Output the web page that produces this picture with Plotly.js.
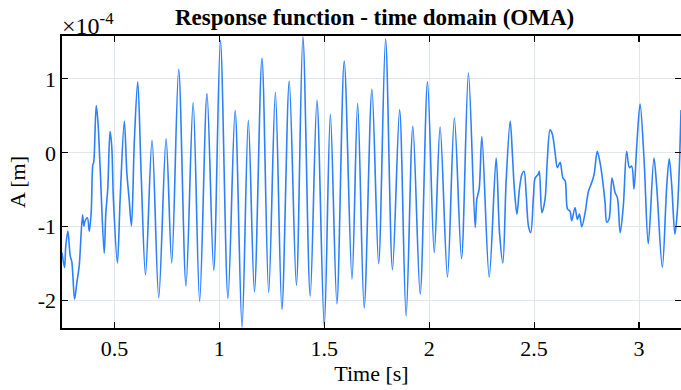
<!DOCTYPE html>
<html>
<head>
<meta charset="utf-8">
<script src="https://cdn.plot.ly/plotly-3.0.1.min.js"></script>
<style>html,body{margin:0;padding:0;background:#fff;}#chart{width:681px;height:390px;}</style>
</head>
<body>
<div id="chart"></div>
<script>
// Time [s]
const timeS = [
0.250,0.262,0.268,0.278,0.289,0.297,0.310,0.321,0.332,0.348,0.354,0.360,0.371,0.380,0.389,0.397,0.401,0.413,0.421,0.432,
0.451,0.459,0.468,0.479,0.487,0.495,0.514,0.527,0.547,0.559,0.570,0.581,0.595,0.611,0.627,0.648,0.679,0.711,0.746,0.773,
0.806,0.841,0.875,0.906,0.941,0.973,1.005,1.041,1.075,1.108,1.138,1.167,1.203,1.235,1.267,1.298,1.333,1.367,1.398,1.433,
1.465,1.500,1.529,1.560,1.595,1.632,1.659,1.690,1.727,1.759,1.792,1.825,1.859,1.890,1.922,1.957,1.992,2.024,2.052,2.087,
2.120,2.154,2.187,2.219,2.227,2.238,2.251,2.286,2.319,2.335,2.351,2.367,2.386,2.397,2.405,2.418,2.430,2.442,2.452,2.462,
2.473,2.484,2.497,2.505,2.520,2.525,2.537,2.552,2.563,2.576,2.587,2.600,2.611,2.624,2.637,2.648,2.659,2.671,2.679,2.695,
2.706,2.716,2.727,2.743,2.759,2.775,2.786,2.801,2.814,2.825,2.838,2.846,2.857,2.871,2.886,2.897,2.910,2.925,2.941,2.954,
2.965,2.976,2.989,3.005,3.024,3.044,3.071,3.084,3.111,3.132,3.144,3.156,3.171,3.182,3.192,3.200
];
// Response amplitude A, in units of 1e-4 m
const amplitudeE4 = [
-1.35,-1.55,-1.26,-1.06,-1.39,-1.48,-1.98,-1.75,-1.53,-0.84,-0.99,-0.92,-0.88,-1.06,-0.81,-0.16,-0.13,0.64,0.43,-0.22,
-1.36,-0.81,-0.49,0.29,0.09,-0.63,-1.49,-0.63,0.43,-0.27,-0.63,-0.99,0.18,0.96,-0.27,-1.65,0.17,-1.96,0.19,-1.49,
1.13,-1.80,0.68,-2.01,0.80,-1.59,1.52,-1.97,0.57,-2.36,0.44,-1.88,1.28,-1.89,0.82,-2.12,0.97,-1.79,1.57,-1.94,
0.71,-2.35,0.52,-2.04,1.24,-1.71,0.67,-2.10,0.86,-1.50,1.54,-1.58,0.58,-2.21,0.36,-1.91,0.96,-1.35,0.35,-1.68,
0.47,-1.43,1.08,-1.01,-0.63,-0.49,0.22,-1.68,-0.07,-1.08,-1.49,-0.36,0.43,-0.05,-0.45,-0.83,-0.49,-0.29,-0.25,-0.56,
-0.99,-1.08,-0.58,-0.34,-0.29,-0.25,-0.81,-0.63,-0.09,0.31,0.25,0.00,-0.20,-0.13,-0.34,-0.38,-0.76,-0.79,-0.92,-0.74,
-0.90,-0.83,-1.00,-0.81,-0.52,-0.40,-0.29,0.02,-0.13,-0.34,-0.67,-0.94,-0.90,-0.34,-0.54,-0.61,-1.08,-0.72,0.02,-0.20,
-0.18,-0.49,0.09,0.66,-0.09,-1.23,-0.07,-0.45,-1.55,-0.45,-0.08,-0.45,-1.10,-0.81,-0.20,0.58
];
const xTickVals = [0.5, 1, 1.5, 2, 2.5, 3];
const xTickText = ['0.5', '1', '1.5', '2', '2.5', '3'];
const yTickVals = [-2, -1, 0, 1];
const yTickText = ['-2', '-1', '0', '1'];

const serif = "Liberation Serif, Times New Roman, serif";

const trace = {
  x: timeS, y: amplitudeE4, type: 'scatter', mode: 'lines',
  line: {color: '#2c80fb', width: 1.6, shape: 'spline', smoothing: 0.9},
  hoverinfo: 'skip'
};

const layout = {
  width: 681, height: 390,
  margin: {l: 62, r: 0, t: 36, b: 62},
  paper_bgcolor: '#fff', plot_bgcolor: '#fff',
  showlegend: false,
  font: {family: serif, size: 22, color: '#000'},
  title: {text: '<b>Response function - time domain (OMA)</b>', font: {family: serif, size: 23, color: '#000'},
          x: 0.55, xanchor: 'center', xref: 'container', y: 0.978, yanchor: 'top', yref: 'container'},
  xaxis: {
    range: [0.25, 3.2], tickvals: xTickVals, ticktext: xTickText,
    ticks: 'inside', ticklen: 6, tickwidth: 1.2, tickcolor: '#000',
    showline: true, linecolor: '#000', linewidth: 1.6, mirror: 'ticks',
    showgrid: true, gridcolor: '#e1e6ea', gridwidth: 1, zeroline: false,
    tickfont: {family: serif, size: 22, color: '#000'},
    title: {text: 'Time [s]', font: {family: serif, size: 22, color: '#000'}, standoff: 3}
  },
  yaxis: {
    range: [-2.37, 1.58], tickvals: yTickVals, ticktext: yTickText,
    ticks: 'inside', ticklen: 6, tickwidth: 1.2, tickcolor: '#000',
    showline: true, linecolor: '#000', linewidth: 1.6, mirror: 'ticks',
    showgrid: true, gridcolor: '#e1e6ea', gridwidth: 1, zeroline: false,
    tickfont: {family: serif, size: 22, color: '#000'},
    title: {text: 'A [m]', font: {family: serif, size: 22, color: '#000'}, standoff: 6}
  },
  annotations: [{
    text: '×10<sup>-4</sup>', xref: 'paper', yref: 'paper', x: 0, y: 1,
    xanchor: 'left', yanchor: 'bottom', showarrow: false, yshift: -5, xshift: -2,
    font: {family: serif, size: 24, color: '#000'}
  }]
};

Plotly.newPlot('chart', [trace], layout, {displayModeBar: false, staticPlot: true});
</script>
</body>
</html>
